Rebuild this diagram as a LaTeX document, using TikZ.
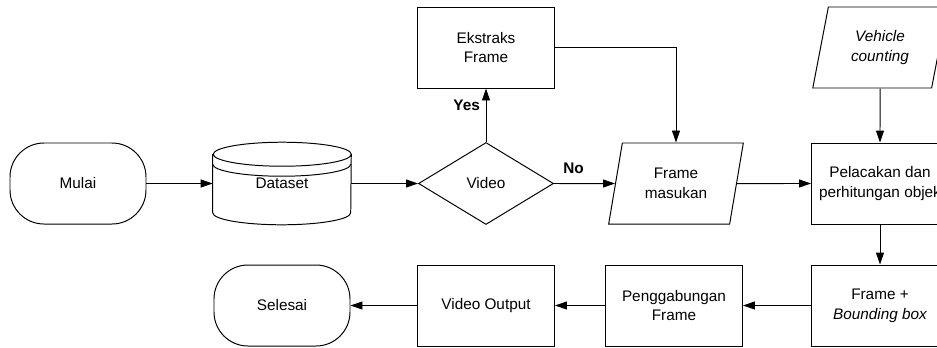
\documentclass[tikz,border=0pt]{standalone}
\usepackage{fontspec}
\setmainfont{Liberation Sans}
\usepackage{tikz}
\usetikzlibrary{shapes.geometric,calc,arrows.meta}
\tikzstyle{startstop} = [rectangle, rounded corners=0.85cm, minimum width=3.4cm, minimum height=2.025cm, text centered, draw=black, line width=0.7pt]
\tikzstyle{process} = [rectangle, minimum width=3.425cm, minimum height=2.025cm, inner sep=1pt, align=center, draw=black, line width=0.7pt]
\tikzstyle{io} = [trapezium, trapezium left angle=76, trapezium right angle=104, trapezium stretches=true, minimum width=3.375cm, minimum height=2.025cm, inner sep=1pt, align=center, draw=black, line width=0.7pt]
\tikzstyle{decision} = [diamond, minimum width=3.375cm, minimum height=2.05cm, inner sep=0pt, text centered, draw=black, line width=0.7pt]
\tikzstyle{storage} = [rectangle, minimum width=3.45cm, minimum height=2.05cm, text centered]
\tikzstyle{lbl} = [font=\fontsize{10.9}{14}\selectfont\bfseries, inner sep=1pt]
\tikzstyle{arrow} = [line width=0.7pt,->,>={Triangle[length=3mm,width=2mm]}]

\begin{document}
\begin{tikzpicture}[node distance=5.1cm, every node/.style={font=\fontsize{10.9}{14}\selectfont}]
\useasboundingbox (0,0) rectangle (23.425,-8.675);

\node (mulai) [startstop] at (1.95,-4.5875) {Mulai};
\node (data) [storage, right of=mulai] {Dataset};
\node (video) [decision, right of=data] {Video};
\node (masukan) [io, node distance=4.75cm, right of=video] {Frame\\masukan};
\node (lacak) [process, right of=masukan] {Pelacakan dan\\perhitungan objek};
\node (ekstrak) [process, node distance=3.4cm, above of=video] {Ekstraks\\Frame};
\node (hitung) [io, node distance=3.4cm, above of=lacak] {\itshape Vehicle\\\itshape counting};
\node (bbox) [process, node distance=3.05cm, below of=lacak] {Frame +\\\itshape Bounding box};
\node (gabung) [process, node distance=5.15cm, left of=bbox] {Penggabungan\\Frame};
\node (vidout) [process, node distance=4.7cm, left of=gabung] {Video Output};
\node (selesai) [startstop, left of=vidout] {Selesai};

\draw [line width=0.7pt] ($(data.north west)+(0,-0.3)$) -- ($(data.south west)+(0,0.3)$)
  arc[start angle=180, end angle=360, x radius=1.725cm, y radius=0.3cm]
  -- ($(data.north east)+(0,-0.3)$)
  arc[start angle=0, end angle=180, x radius=1.725cm, y radius=0.3cm]
  arc[start angle=180, end angle=360, x radius=1.725cm, y radius=0.3cm];
\draw [line width=0.7pt] ($(data.north west)+(0,-0.55)$)
  arc[start angle=180, end angle=360, x radius=1.725cm, y radius=0.3cm];

\draw [arrow] (mulai) -- (data);
\draw [arrow] (data) -- (video);
\draw [arrow] (video) -- node[lbl, pos=0.32, above=6pt] {No} (masukan);
\draw [arrow] (video) -- node[lbl, pos=0.69, left=3pt] {Yes} (ekstrak);
\draw [arrow] (ekstrak.east) -| (masukan.north);
\draw [arrow] (masukan) -- (lacak);
\draw [arrow] (hitung) -- (lacak);
\draw [arrow] (lacak) -- (bbox);
\draw [arrow] (bbox) -- (gabung);
\draw [arrow] (gabung) -- (vidout);
\draw [arrow] (vidout) -- (selesai);

\end{tikzpicture}
\end{document}
